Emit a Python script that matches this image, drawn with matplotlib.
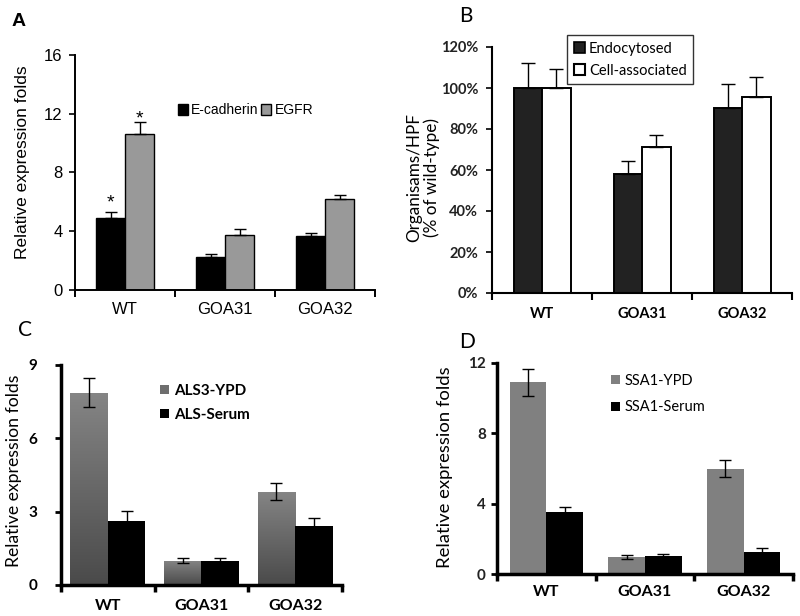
import matplotlib
matplotlib.use("Agg")
import matplotlib.pyplot as plt
import numpy as np
from matplotlib.colors import LinearSegmentedColormap
from matplotlib.patches import Patch

# ---------------- data ----------------
groups = ["WT", "GOA31", "GOA32"]

# Panel A
a_ecad = [4.88, 2.25, 3.65]
a_ecad_err = [0.42, 0.2, 0.21]
a_egfr = [10.64, 3.77, 6.17]
a_egfr_err = [0.82, 0.36, 0.3]
a_yticks = [0, 4, 8, 12, 16]

# Panel B (percent)
b_endo = [100, 58.2, 90.4]
b_endo_err = [12, 6.2, 11.7]
b_cell = [100, 71.2, 95.4]
b_cell_err = [9.5, 6.0, 10.0]
b_yticks = [0, 20, 40, 60, 80, 100, 120]

# Panel C
c_ypd = [7.87, 1.0, 3.81]
c_ypd_err = [0.58, 0.1, 0.35]
c_serum = [2.63, 1.0, 2.41]
c_serum_err = [0.4, 0.1, 0.32]
c_yticks = [0, 3, 6, 9]

# Panel D
d_ypd = [10.9, 0.98, 5.98]
d_ypd_err = [0.78, 0.12, 0.48]
d_serum = [3.51, 1.0, 1.27]
d_serum_err = [0.3, 0.14, 0.23]
d_yticks = [0, 4, 8, 12]

ARIAL = "Liberation Sans"
CAL = "Lato"

fig = plt.figure(figsize=(8, 6.16), dpi=100)
W, H = 800, 616


def add_ax(left, right, top, bottom):
    return fig.add_axes([left / W, (H - bottom) / H, (right - left) / W, (bottom - top) / H])


def style_x(ax, lw, fs, family, weight, pad):
    ax.set_xlim(-0.5, 2.5)
    ax.set_xticks(range(len(groups)))
    ax.set_xticklabels(groups, fontsize=fs, family=family, fontweight=weight)
    ax.tick_params(axis="x", which="major", length=0, pad=pad)
    ax.set_xticks([-0.5, 0.5, 1.5, 2.5], minor=True)
    ax.tick_params(axis="x", which="minor", length=5, width=lw, direction="out")
    for s in ["top", "right"]:
        ax.spines[s].set_visible(False)
    for s in ["left", "bottom"]:
        ax.spines[s].set_linewidth(lw)


x = np.arange(len(groups))

# ---------------- Panel A ----------------
axA = add_ax(75, 375, 55, 290)
w = 0.29
axA.bar(x - w / 2, a_ecad, w, color="black", edgecolor="black", linewidth=1)
axA.bar(x + w / 2, a_egfr, w, color="#999999", edgecolor="black", linewidth=1)
axA.errorbar(x - w / 2, a_ecad, yerr=[[0] * 3, a_ecad_err], fmt="none", ecolor="black",
             elinewidth=1, capsize=4, capthick=1)
axA.errorbar(x + w / 2, a_egfr, yerr=[[0] * 3, a_egfr_err], fmt="none", ecolor="black",
             elinewidth=1, capsize=4, capthick=1)
axA.text(x[0] - w / 2, a_ecad[0] + a_ecad_err[0] + 0.05, "*", ha="center", va="bottom",
         fontsize=14, family=ARIAL)
axA.text(x[0] + w / 2, a_egfr[0] + 0.45, "*", ha="center", va="bottom", fontsize=14, family=ARIAL)
axA.set_ylim(0, 16)
axA.set_yticks(a_yticks)
axA.set_yticklabels([str(v) for v in a_yticks], fontsize=12, family=ARIAL)
axA.tick_params(axis="y", length=4, width=1.2, direction="out", pad=5)
style_x(axA, 1.4, 12, ARIAL, "normal", 9)
axA.set_ylabel("Relative expression folds", fontsize=12.5, family=ARIAL)
axA.yaxis.set_label_coords(-0.15, 0.545)
hA = [Patch(facecolor="black", edgecolor="black"), Patch(facecolor="#999999", edgecolor="black")]
axA.legend(hA, ["E-cadherin", "EGFR"], ncol=2, loc="center left", bbox_to_anchor=(0.32, 0.765),
           frameon=False, prop={"family": ARIAL, "size": 10}, handlelength=0.7, handleheight=0.9,
           handletextpad=0.25, columnspacing=0.2, borderpad=0)
fig.text(12 / W, 1 - 22 / H, "A", fontsize=14, fontweight="bold", family=ARIAL, va="center")

# ---------------- Panel B ----------------
axB = add_ax(492, 792, 47, 293)
w = 0.285
axB.bar(x - w / 2, b_endo, w, color="#222222", edgecolor="black", linewidth=1.4)
axB.bar(x + w / 2, b_cell, w, color="white", edgecolor="black", linewidth=1.4)
axB.errorbar(x - w / 2, b_endo, yerr=[[0] * 3, b_endo_err], fmt="none", ecolor="black",
             elinewidth=1, capsize=5, capthick=1)
axB.errorbar(x + w / 2, b_cell, yerr=[[0] * 3, b_cell_err], fmt="none", ecolor="black",
             elinewidth=1, capsize=5, capthick=1)
axB.set_ylim(0, 120)
axB.set_yticks(b_yticks)
axB.set_yticklabels([f"{v}%" for v in b_yticks], fontsize=10.5, family=CAL, fontweight="bold",
                    color="#222222")
axB.tick_params(axis="y", length=4, width=1.2, direction="out", pad=6)
style_x(axB, 1.5, 10.5, CAL, "bold", 10)
axB.set_ylabel("Organisams/HPF\n(% of wild-type)", fontsize=12.3, family=CAL, linespacing=1.05)
axB.yaxis.set_label_coords(-0.175, 0.47)
hB = [Patch(facecolor="#222222", edgecolor="black", linewidth=1.2),
      Patch(facecolor="white", edgecolor="black", linewidth=1.5)]
legB = axB.legend(hB, ["Endocytosed", "Cell-associated"], loc="upper left",
                  bbox_to_anchor=((567 - 492) / 300, 1 + (47 - 35) / 246),
                  frameon=True, fancybox=False, prop={"family": CAL, "size": 10.5},
                  handlelength=0.75, handleheight=0.85, handletextpad=0.3, labelspacing=0.55,
                  borderpad=0.45, borderaxespad=0)
legB.get_frame().set_edgecolor("black")
legB.get_frame().set_linewidth(1.0)
fig.text(459 / W, 1 - 16 / H, "B", fontsize=15, family=CAL, va="center")

# ---------------- Panel C ----------------
axC = add_ax(61, 342, 365, 585)
w = 0.4
cmap = LinearSegmentedColormap.from_list("g", ["#4a4a4a", "#858585"])
barsC = axC.bar(x - w / 2, c_ypd, w, color="none", edgecolor="none")
grad = np.linspace(0, 1, 256).reshape(-1, 1)
for b in barsC:
    im = axC.imshow(grad, extent=[b.get_x(), b.get_x() + b.get_width(), 0, b.get_height()],
                    origin="lower", aspect="auto", cmap=cmap, zorder=1)
    im.set_clip_path(b)
axC.bar(x + w / 2, c_serum, w, color="black", zorder=2)
axC.errorbar(x - w / 2, c_ypd, yerr=c_ypd_err, fmt="none", ecolor="black", elinewidth=1,
             capsize=4, capthick=1, zorder=3)
axC.errorbar(x + w / 2, c_serum, yerr=c_serum_err, fmt="none", ecolor="black", elinewidth=1,
             capsize=4, capthick=1, zorder=3)
axC.set_ylim(0, 9)
axC.set_yticks(c_yticks)
axC.set_yticklabels([str(v) for v in c_yticks], fontsize=11, family=CAL, fontweight="bold")
axC.tick_params(axis="y", length=4, width=2, direction="out", pad=13)
style_x(axC, 2.5, 11.5, CAL, "bold", 10)
axC.set_ylabel("Relative expression folds", fontsize=12.7, family=CAL)
axC.yaxis.set_label_coords(-0.14, 0.518)
hC = [Patch(facecolor="#6e6e6e"), Patch(facecolor="black")]
axC.legend(hC, ["ALS3-YPD", "ALS-Serum"], loc="upper left",
           bbox_to_anchor=((160 - 61) / 281, 1 - (384 - 365) / 220), frameon=False,
           prop={"family": CAL, "size": 11, "weight": "bold"}, handlelength=0.6, handleheight=0.6,
           handletextpad=0.3, labelspacing=0.65, borderpad=0, borderaxespad=0)
fig.text(18 / W, 1 - 330 / H, "C", fontsize=15, family=CAL, va="center")

# ---------------- Panel D ----------------
axD = add_ax(497, 793, 363, 574)
w = 0.37
axD.bar(x - w / 2, d_ypd, w, color="#808080")
axD.bar(x + w / 2, d_serum, w, color="black")
axD.errorbar(x - w / 2, d_ypd, yerr=d_ypd_err, fmt="none", ecolor="black", elinewidth=1,
             capsize=4, capthick=1)
axD.errorbar(x + w / 2, d_serum, yerr=d_serum_err, fmt="none", ecolor="black", elinewidth=1,
             capsize=4, capthick=1)
axD.set_ylim(0, 12)
axD.set_yticks(d_yticks)
axD.set_yticklabels([str(v) for v in d_yticks], fontsize=11, family=CAL, fontweight="bold",
                    color="#222222")
axD.tick_params(axis="y", length=4, width=2, direction="out", pad=4)
style_x(axD, 2.5, 11.5, CAL, "bold", 8)
axD.set_ylabel("Relative expression folds", fontsize=13.3, family=CAL)
axD.yaxis.set_label_coords(-0.149, 0.507)
hD = [Patch(facecolor="#808080"), Patch(facecolor="black")]
axD.legend(hD, ["SSA1-YPD", "SSA1-Serum"], loc="upper left",
           bbox_to_anchor=((611 - 497) / 296, 1 - (374 - 363) / 211), frameon=False,
           prop={"family": CAL, "size": 10.5}, handlelength=0.6, handleheight=0.6,
           handletextpad=0.3, labelspacing=0.85, borderpad=0, borderaxespad=0)
fig.text(459 / W, 1 - 342 / H, "D", fontsize=15, family=CAL, va="center")

fig.savefig("out.png", dpi=100)
